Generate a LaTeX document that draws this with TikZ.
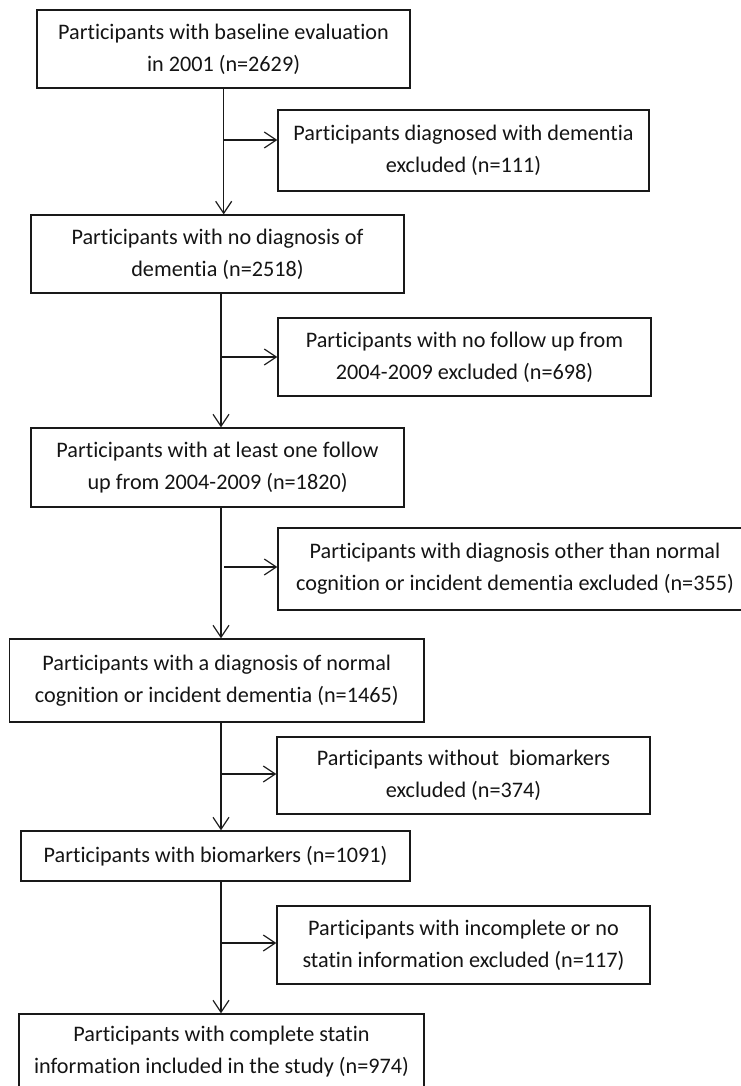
\documentclass[tikz,border=0pt]{standalone}
\usepackage{fontspec}
\setmainfont{Carlito}[Ligatures=NoCommon]
\usetikzlibrary{arrows.meta}
\begin{document}
\begin{tikzpicture}[x=1pt,y=-1pt,
  box/.style={draw=black!90, line width=1.3pt, align=center, inner sep=0pt,
    font=\fontsize{22.2}{32}\selectfont, text=black!92},
  arr/.style={draw=black!90, line width=1.2pt, -{Straight Barb[length=12pt,width=16pt,line width=1.2pt]}}
]
\useasboundingbox (0,0) rectangle (740,1086);
\node[box, minimum width=373pt, minimum height=78pt] (b1) at (223.5,49) {Participants with baseline evaluation\\in 2001 (n=2629)};
\node[box, minimum width=371pt, minimum height=81pt] (e1) at (463.5,150.5) {Participants diagnosed with dementia\\excluded (n=111)};
\node[box, minimum width=373pt, minimum height=78pt] (b2) at (217.5,254) {Participants with no diagnosis of\\dementia (n=2518)};
\node[box, minimum width=373pt, minimum height=78pt] (e2) at (464.5,357) {Participants with no follow up from\\2004-2009 excluded (n=698)};
\node[box, minimum width=373pt, minimum height=79pt] (b3) at (217.5,467.5) {Participants with at least one follow\\up from 2004-2009 (n=1820)};
\node[box, minimum width=474pt, minimum height=82pt] (e3) at (515,569) {Participants with diagnosis other than normal\\cognition or incident dementia excluded (n=355)};
\node[box, minimum width=414.5pt, minimum height=83pt] (b4) at (216.75,680.5) {Participants with a diagnosis of normal\\cognition or incident dementia (n=1465)};
\node[box, minimum width=373pt, minimum height=77pt] (e4) at (463.5,775.5) {Participants without\ \ biomarkers\\excluded (n=374)};
\node[box, minimum width=389pt, minimum height=50pt] (b5) at (215.5,856) {Participants with biomarkers (n=1091)};
\node[box, minimum width=373pt, minimum height=78pt] (e5) at (463.5,945) {Participants with incomplete or no\\statin information excluded (n=117)};
\node[box, minimum width=405pt, minimum height=76pt] (b6) at (221.5,1052) {Participants with complete statin\\information included in the study (n=974)};
\coordinate (m1) at (223.7,0);
\coordinate (m2) at (221,0);
\coordinate (m3) at (221,0);
\coordinate (m4) at (221,0);
\coordinate (m5) at (221,0);
\coordinate (s1) at (223.7,140);
\coordinate (s2) at (221,357);
\coordinate (s3) at (224,567);
\coordinate (s4) at (221,774);
\coordinate (s5) at (221,943);
\draw[arr] (b1.south -| m1) -- (b2.north -| m1);
\draw[arr] (s1) -- (s1 -| e1.west);
\draw[arr] (b2.south -| m2) -- (b3.north -| m2);
\draw[arr] (s2) -- (s2 -| e2.west);
\draw[arr] (b3.south -| m3) -- (b4.north -| m3);
\draw[arr] (s3) -- (s3 -| e3.west);
\draw[arr] (b4.south -| m4) -- (b5.north -| m4);
\draw[arr] (s4) -- (s4 -| e4.west);
\draw[arr] (b5.south -| m5) -- (b6.north -| m5);
\draw[arr] (s5) -- (s5 -| e5.west);
\end{tikzpicture}
\end{document}
